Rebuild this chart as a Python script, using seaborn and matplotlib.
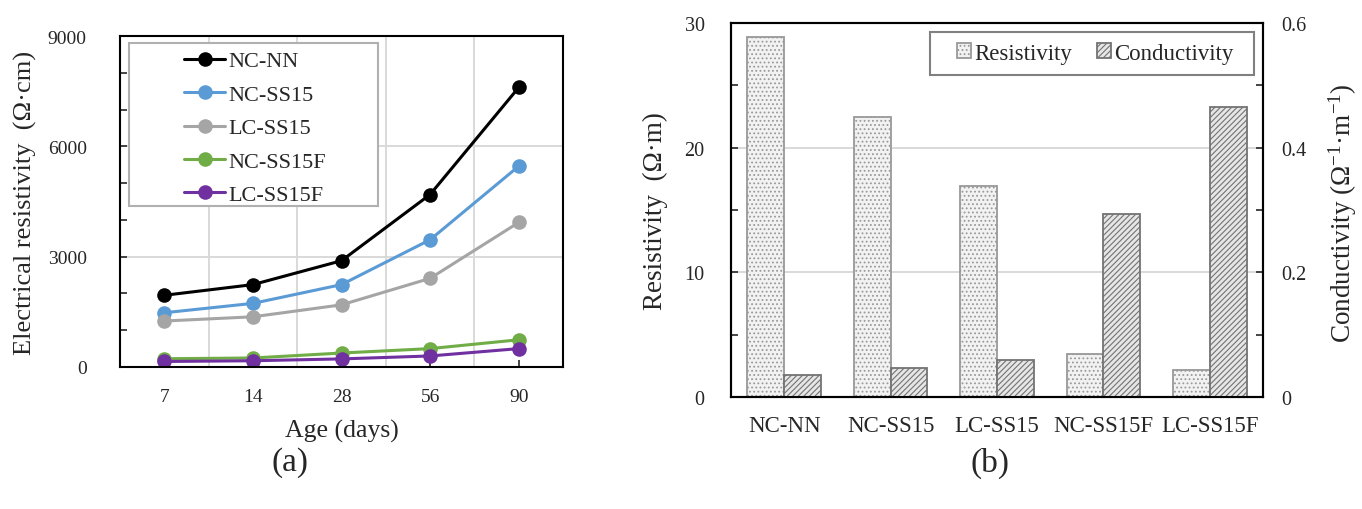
import numpy as np
import pandas as pd
import matplotlib
matplotlib.use("Agg")
import matplotlib.pyplot as plt
from matplotlib.patches import Rectangle, Patch
from matplotlib.ticker import MultipleLocator, FixedLocator, FuncFormatter
import seaborn as sns

# ---- data -------------------------------------------------------------
ages = ["7", "14", "28", "56", "90"]
mix_names = ["NC-NN", "NC-SS15", "LC-SS15", "NC-SS15F", "LC-SS15F"]
nc_nn = [1950, 2240, 2890, 4690, 7600]
nc_ss15 = [1475, 1730, 2240, 3460, 5460]
lc_ss15 = [1250, 1365, 1690, 2410, 3930]
nc_ss15f = [225, 245, 380, 500, 740]
lc_ss15f = [150, 170, 220, 300, 500]
line_colors = ["#000000", "#5B9BD5", "#A5A5A5", "#70AD47", "#7030A0"]

resistivity = [28.9, 22.5, 16.95, 3.45, 2.15]      # Ohm*m
conductivity = [0.036, 0.046, 0.060, 0.293, 0.466]  # 1/(Ohm*m)

# ---- style ------------------------------------------------------------
sns.set_style("white")
plt.rcParams["font.family"] = ["Liberation Serif", "DejaVu Serif"]
plt.rcParams["mathtext.fontset"] = "custom"
plt.rcParams["mathtext.rm"] = "Liberation Serif"
plt.rcParams["mathtext.it"] = "Liberation Serif:italic"
plt.rcParams["axes.edgecolor"] = "black"
plt.rcParams["hatch.linewidth"] = 0.8

W, H = 1362, 510
fig = plt.figure(figsize=(W / 100, H / 100), dpi=100)


def px_axes(x0, y0, x1, y1):
    return fig.add_axes([x0 / W, 1 - y1 / H, (x1 - x0) / W, (y1 - y0) / H])


grid_c = "#d9d9d9"

# ---- (a) resistivity development ---------------------------------------
ax1 = px_axes(120, 37, 563, 368)
series = [nc_nn, nc_ss15, lc_ss15, nc_ss15f, lc_ss15f]
df_a = pd.DataFrame({
    "age": np.tile(ages, len(mix_names)),
    "rho": np.concatenate(series),
    "mix": np.repeat(mix_names, len(ages)),
})
sns.lineplot(data=df_a, x="age", y="rho", hue="mix", hue_order=mix_names,
             palette=line_colors, marker="o", markersize=10.5,
             markeredgewidth=0, linewidth=2.2, sort=False, legend=False, ax=ax1)

ax1.set_xlim(-0.5, len(ages) - 0.5)
ax1.set_ylim(0, 9000)
ax1.yaxis.set_major_locator(MultipleLocator(3000))
ax1.yaxis.set_minor_locator(MultipleLocator(1000))
ax1.xaxis.set_minor_locator(FixedLocator(np.arange(0.5, len(ages) - 1, 1.0)))
ax1.set_axisbelow(True)
ax1.grid(False)
ax1.grid(True, which="major", axis="y", color=grid_c, lw=1.4)
ax1.grid(True, which="minor", axis="x", color=grid_c, lw=1.4)
ax1.tick_params(axis="y", which="both", direction="in", length=5, width=1.2,
                labelsize=14, pad=24, left=True)
ax1.tick_params(axis="x", which="major", direction="in", length=5, width=1.2,
                labelsize=14, pad=15, bottom=True)
ax1.tick_params(axis="x", which="minor", length=0)
for s in ax1.spines.values():
    s.set_color("black")
    s.set_linewidth(1.5)
ax1.set_xlabel("Age (days)", fontsize=18.5, labelpad=10)
ax1.set_ylabel("Electrical resistivity  (\u03a9\u00b7cm)", fontsize=19)
ax1.yaxis.set_label_coords(-0.187, 0.5)

# legend box
ax1.add_patch(Rectangle((0.02, 0.485), 0.562, 0.494, transform=ax1.transAxes,
                        facecolor="white", edgecolor="#b0b0b0", lw=1.5, zorder=2.5))
leg1 = ax1.legend(ax1.lines[:len(mix_names)], mix_names, loc="upper left",
                  bbox_to_anchor=(0.145, 0.955), borderaxespad=0, borderpad=0,
                  frameon=False, fontsize=16, handlelength=1.85,
                  handletextpad=0.15, labelspacing=0.58)
leg1.set_zorder(3)

# ---- (b) resistivity vs conductivity -----------------------------------
ax2 = px_axes(731, 24, 1263, 398)
ax3 = ax2.twinx()
df_b = pd.DataFrame({
    "mix": mix_names * 2,
    "measure": ["Resistivity"] * 5 + ["Conductivity"] * 5,
    "res": resistivity + [np.nan] * 5,
    "cond": [np.nan] * 5 + conductivity,
})
order_m = ["Resistivity", "Conductivity"]
sns.barplot(data=df_b, x="mix", y="res", hue="measure", hue_order=order_m,
            order=mix_names, width=0.69, errorbar=None, legend=False, ax=ax2)
sns.barplot(data=df_b, x="mix", y="cond", hue="measure", hue_order=order_m,
            order=mix_names, width=0.69, errorbar=None, legend=False, ax=ax3)

res_style = dict(facecolor="#f2f2f2", edgecolor="#999999", hatch="....", lw=1.3)
con_style = dict(facecolor="#e6e6e6", edgecolor="#737373", hatch="//////", lw=1.3)
for p in ax2.patches:
    p.set(**res_style)
for p in ax3.patches:
    p.set(**con_style)

ax2.set_xlim(-0.5, 4.5)
ax2.set_ylim(0, 30)
ax3.set_ylim(0, 0.6)
ax2.yaxis.set_major_locator(MultipleLocator(10))
ax2.yaxis.set_minor_locator(MultipleLocator(5))
ax3.yaxis.set_major_locator(MultipleLocator(0.2))
ax3.yaxis.set_minor_locator(MultipleLocator(0.1))
fmt = FuncFormatter(lambda v, _: f"{v:g}")
ax3.yaxis.set_major_formatter(fmt)
ax2.set_axisbelow(True)
ax2.grid(False)
ax3.grid(False)
ax2.grid(True, which="major", axis="y", color=grid_c, lw=1.4)
ax2.tick_params(axis="y", which="both", direction="in", length=5, width=1.2,
                labelsize=14.5, pad=19, left=True)
ax3.tick_params(axis="y", which="both", direction="in", length=5, width=1.2,
                labelsize=14.5, pad=13, right=True)
ax2.tick_params(axis="x", length=0, labelsize=16.5, pad=13)
for a in (ax2, ax3):
    for s in a.spines.values():
        s.set_color("black")
        s.set_linewidth(1.5)
ax2.set_xlabel("")
ax2.set_ylabel("Resistivity  (\u03a9\u00b7m)", fontsize=19.5)
ax2.yaxis.set_label_coords(-0.118, 0.5)
ax3.set_ylabel("Conductivity (\u03a9$^{-1}$\u00b7m$^{-1}$)", fontsize=19.5, rotation=90)
ax3.yaxis.set_label_coords(1.12, 0.495)

ax3.add_patch(Rectangle((0.374, 0.862), 0.609, 0.114, transform=ax3.transAxes,
                        facecolor="white", edgecolor="#808080", lw=1.5, zorder=2.5))
handles_b = [Patch(**res_style), Patch(**con_style)]
leg2 = ax3.legend(handles_b, order_m, loc="center left",
                  bbox_to_anchor=(0.425, 0.919), borderaxespad=0, borderpad=0,
                  frameon=False, fontsize=16.5, ncol=2, handlelength=0.6,
                  handleheight=0.6, handletextpad=0.15, columnspacing=1.1)
leg2.set_zorder(3)

# ---- panel captions ------------------------------------------------------
fig.text(290 / W, 1 - 463 / H, "(a)", fontsize=24, ha="center", va="center")
fig.text(990 / W, 1 - 463 / H, "(b)", fontsize=24, ha="center", va="center")

fig.savefig("out.png", dpi=100)
